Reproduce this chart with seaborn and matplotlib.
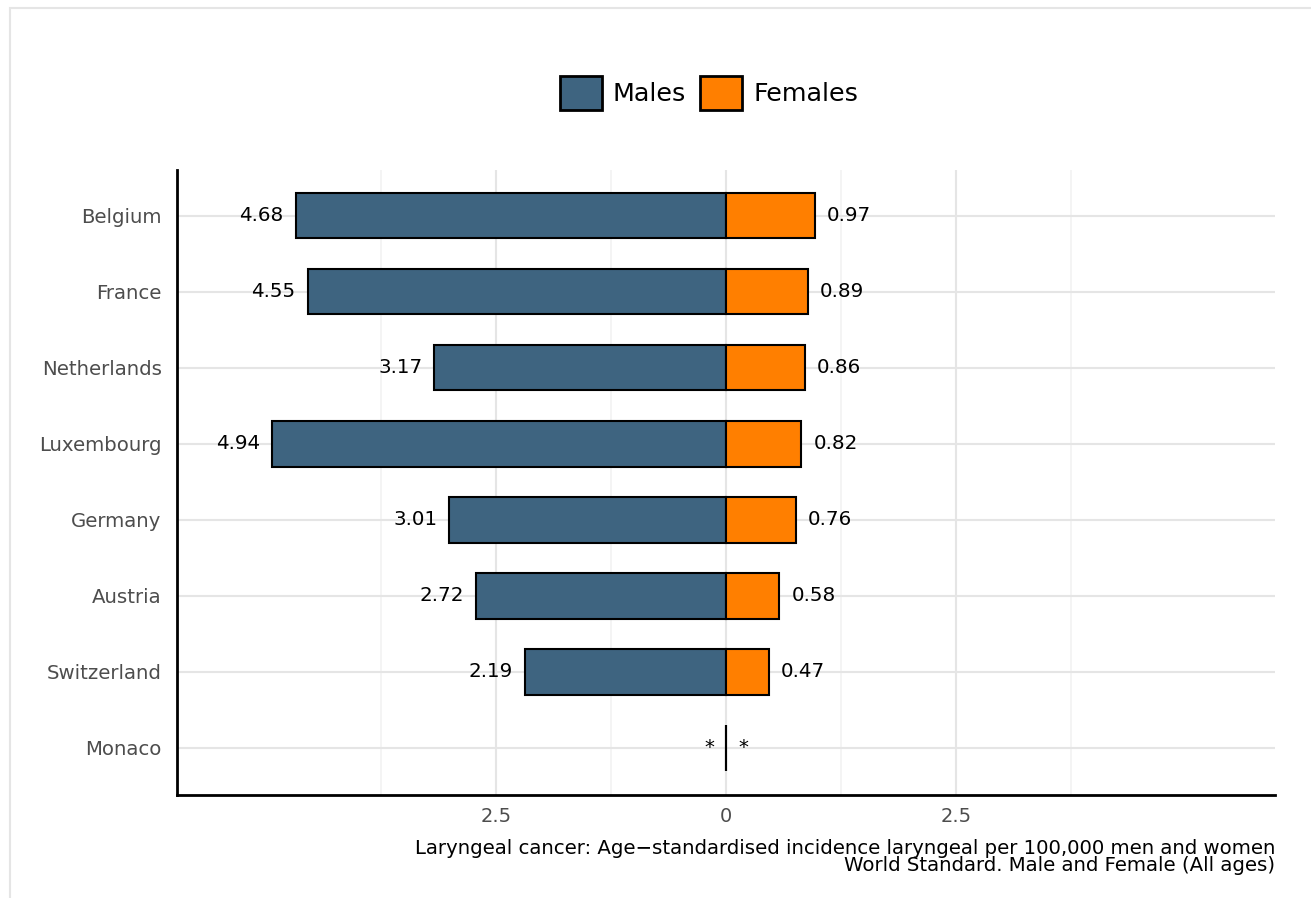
import matplotlib
matplotlib.use("Agg")
import matplotlib.pyplot as plt
from matplotlib.patches import Patch, Rectangle
import seaborn as sns
import pandas as pd
import numpy as np

countries = ["Belgium", "France", "Netherlands", "Luxembourg", "Germany",
             "Austria", "Switzerland", "Monaco"]
males = [4.68, 4.55, 3.17, 4.94, 3.01, 2.72, 2.19, 0.0]
females = [0.97, 0.89, 0.86, 0.82, 0.76, 0.58, 0.47, 0.0]
male_labels = ["4.68", "4.55", "3.17", "4.94", "3.01", "2.72", "2.19", "*"]
female_labels = ["0.97", "0.89", "0.86", "0.82", "0.76", "0.58", "0.47", "*"]
x_ticks = [-2.5, 0, 2.5]
x_ticklabels = ["2.5", "0", "2.5"]

male_color = "#3E6480"
female_color = "#FF7F00"

df = pd.DataFrame({"country": countries, "males": [-m for m in males], "females": females})

sns.set_style("white")
fig = plt.figure(figsize=(13.11, 8.98), dpi=100)
ax = fig.add_axes([0.135, 0.1147, 0.8375, 0.696])

# panel frame (light gray), partly off canvas
fig.patches.append(Rectangle((10 / 1311, -0.5), 2.0, 1 - 8 / 898 + 0.5, transform=fig.transFigure,
                             fill=False, edgecolor="#e5e5e5", linewidth=1.5, zorder=0))

sns.barplot(data=df, x="males", y="country", orient="h", color=male_color,
            edgecolor="black", linewidth=1.5, width=0.6, ax=ax, saturation=1, zorder=3)
sns.barplot(data=df, x="females", y="country", orient="h", color=female_color,
            edgecolor="black", linewidth=1.5, width=0.6, ax=ax, saturation=1, zorder=3)

lim = 5.97
ax.set_xlim(-lim, lim)
ax.set_ylim(7.62, -0.6)

# grid
for v in [-3.75, -1.25, 1.25, 3.75]:
    ax.axvline(v, color="#f2f2f2", linewidth=1.2, zorder=0)
for v in x_ticks:
    ax.axvline(v, color="#e5e5e5", linewidth=1.5, zorder=0)
for i in range(len(countries)):
    ax.axhline(i, color="#e5e5e5", linewidth=1.5, zorder=0)

off = 12 / 92
for i in range(len(countries)):
    ax.text(-males[i] - off, i, male_labels[i], ha="right", va="center", fontsize=14.3, color="black")
    ax.text(females[i] + off, i, female_labels[i], ha="left", va="center", fontsize=14.3, color="black")

ax.set_xticks(x_ticks)
ax.set_xticklabels(x_ticklabels, fontsize=14, color="#4d4d4d")
ax.tick_params(axis="y", labelsize=14.2, labelcolor="#4d4d4d", length=0, pad=11)
ax.tick_params(axis="x", length=0, pad=9)
ax.set_xlabel("")
ax.set_ylabel("")
for s in ["top", "right"]:
    ax.spines[s].set_visible(False)
for s in ["left", "bottom"]:
    ax.spines[s].set_linewidth(2)
    ax.spines[s].set_color("black")

handles = [Patch(facecolor=male_color, edgecolor="black", linewidth=2, label="Males"),
           Patch(facecolor=female_color, edgecolor="black", linewidth=2, label="Females")]
fig.legend(handles=handles, loc="center", bbox_to_anchor=(709 / 1311, 1 - 93 / 898), ncol=2,
           frameon=False, fontsize=18.3, handlelength=1.65, handleheight=1.65,
           handletextpad=0.45, columnspacing=0.55, labelcolor="black")

fig.text(1275 / 1311, 1 - 857 / 898,
         "Laryngeal cancer: Age\u2212standardised incidence laryngeal per 100,000 men and women\n"
         "World Standard. Male and Female (All ages)",
         ha="right", va="center", fontsize=14.2, linespacing=0.88, color="black")

fig.savefig("out.png", dpi=100)
